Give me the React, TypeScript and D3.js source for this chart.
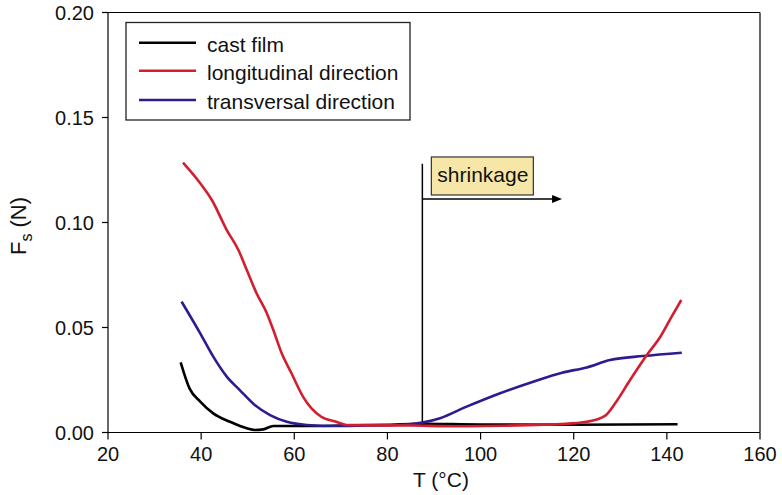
import React from "react";
import * as d3 from "d3";

const castT = [35.6, 37.5, 39.8, 42.6, 46.2, 49.8, 51.5, 53.3, 55.5, 58.4, 65, 70, 80, 87, 100, 120, 142.3];
const castF = [0.0334, 0.021, 0.0147, 0.0091, 0.0051, 0.002, 0.0012, 0.0015, 0.0031, 0.0031, 0.0031, 0.0033, 0.0037, 0.0042, 0.0038, 0.0037, 0.0039];

const longT = [36.1, 39.8, 42.3, 45.5, 48.0, 49.8, 51.9, 54.1, 55.5, 57.3, 59.4, 61.9, 63.7, 65.8, 69.0, 71.2, 75, 85, 95, 105, 112, 117.1, 122.8, 126.7, 128.9, 132.1, 135.7, 138.6, 141.0, 143.1];
const longF = [0.1285, 0.1187, 0.1107, 0.0964, 0.0869, 0.0774, 0.0663, 0.0568, 0.0488, 0.0377, 0.0282, 0.017, 0.0115, 0.0075, 0.0051, 0.0036, 0.0035, 0.0033, 0.003, 0.0032, 0.0036, 0.004, 0.0051, 0.0079, 0.0139, 0.025, 0.0369, 0.0456, 0.0551, 0.0631];

const transT = [35.8, 39.8, 42.6, 45.5, 48.3, 51.5, 54.8, 58.4, 62.7, 68.3, 75, 82, 87.5, 91.3, 97.0, 104.2, 111.3, 117.5, 122.8, 127.8, 134.9, 143.2];
const transF = [0.0623, 0.0472, 0.0361, 0.0266, 0.0202, 0.0131, 0.0083, 0.0051, 0.0036, 0.0031, 0.0033, 0.0036, 0.0047, 0.0068, 0.0123, 0.0187, 0.0242, 0.0285, 0.031, 0.0345, 0.0364, 0.038];

const xTicks = [20, 40, 60, 80, 100, 120, 140, 160];
const yTicks = [0, 0.05, 0.1, 0.15, 0.2];

const seriesNames = ["cast film", "longitudinal direction", "transversal direction"];
const seriesColors = ["#000000", "#d21f2f", "#2e1b8f"];

const shrinkT = 87.5;
const shrinkTop = 0.128;
const shrinkBottom = 0.0045;
const arrowF = 0.1112;
const arrowEndT = 117.5;

export default function App() {
  const left = 108, right = 760, top = 12.5, bottom = 432.5;
  const x = d3.scaleLinear().domain([20, 160]).range([left, right]);
  const y = d3.scaleLinear().domain([0, 0.2]).range([bottom, top]);
  const line = d3
    .line<[number, number]>()
    .x((d) => x(d[0]))
    .y((d) => y(d[1]))
    .curve(d3.curveMonotoneX);
  const series = [
    castT.map((t, i) => [t, castF[i]] as [number, number]),
    longT.map((t, i) => [t, longF[i]] as [number, number]),
    transT.map((t, i) => [t, transF[i]] as [number, number]),
  ];
  const drawOrder = [0, 2, 1];
  const font = "'Liberation Sans', Arial, sans-serif";
  const sx = x(shrinkT);
  const ay = y(arrowF);
  return (
    <svg
      width={782}
      height={495}
      style={{ position: "absolute", left: 0, top: 0, background: "#fff" }}
      fontFamily={font}
    >
      <rect x={0} y={0} width={782} height={495} fill="#fff" />
      <line x1={left} x2={right} y1={top} y2={top} stroke="#000" strokeWidth={1.2} />
      <line x1={right} x2={right} y1={top} y2={bottom} stroke="#000" strokeWidth={1.2} />
      <line x1={left} x2={left} y1={top} y2={bottom} stroke="#000" strokeWidth={1.2} />
      <line x1={left} x2={right} y1={bottom} y2={bottom} stroke="#000" strokeWidth={1.2} />
      {yTicks.map((t) => (
        <g key={"y" + t}>
          <line x1={left - 6} x2={left} y1={y(t)} y2={y(t)} stroke="#000" strokeWidth={1.2} />
          <text x={left - 14} y={y(t)} dy="0.36em" textAnchor="end" fontSize={20} fill="#111">
            {t.toFixed(2)}
          </text>
        </g>
      ))}
      {xTicks.map((t) => (
        <g key={"x" + t}>
          <line x1={x(t)} x2={x(t)} y1={bottom} y2={bottom + 7} stroke="#000" strokeWidth={1.2} />
          <text x={x(t)} y={bottom + 28} textAnchor="middle" fontSize={20} fill="#111">
            {t}
          </text>
        </g>
      ))}
      <text x={441} y={487} textAnchor="middle" fontSize={21} fill="#111">
        T (°C)
      </text>
      <text transform={`translate(26, 226) rotate(-90)`} textAnchor="middle" fontSize={22} fill="#111">
        F<tspan fontSize={16} dy={6}>s</tspan>
        <tspan dy={-6}> (N)</tspan>
      </text>
      <line x1={sx} x2={sx} y1={y(shrinkTop)} y2={y(shrinkBottom)} stroke="#000" strokeWidth={1.5} />
      <line x1={sx} x2={x(arrowEndT) - 8} y1={ay} y2={ay} stroke="#000" strokeWidth={1.3} />
      <path
        d={`M${x(arrowEndT)},${ay} L${x(arrowEndT) - 10},${ay - 4} L${x(arrowEndT) - 10},${ay + 4} Z`}
        fill="#000"
      />
      <rect x={sx + 9} y={ay - 42} width={102} height={38} fill="#f6e7a9" stroke="#333" strokeWidth={1.2} />
      <text x={sx + 15} y={ay - 17} fontSize={21} fill="#111">
        shrinkage
      </text>
      {drawOrder.map((i) => (
        <path
          key={"s" + i}
          d={line(series[i]) || ""}
          fill="none"
          stroke={seriesColors[i]}
          strokeWidth={2.6}
          strokeLinejoin="round"
          strokeLinecap="butt"
        />
      ))}
      <rect x={126} y={22.5} width={284} height={97.5} fill="#fff" stroke="#222" strokeWidth={1.3} />
      {seriesNames.map((n, i) => {
        const ly = [42.7, 70.7, 100][i];
        return (
          <g key={"l" + i}>
            <line x1={139} x2={196} y1={ly} y2={ly} stroke={seriesColors[i]} strokeWidth={2.6} />
            <text x={207} y={ly} dy="0.42em" fontSize={21} fill="#111">
              {n}
            </text>
          </g>
        );
      })}
    </svg>
  );
}
